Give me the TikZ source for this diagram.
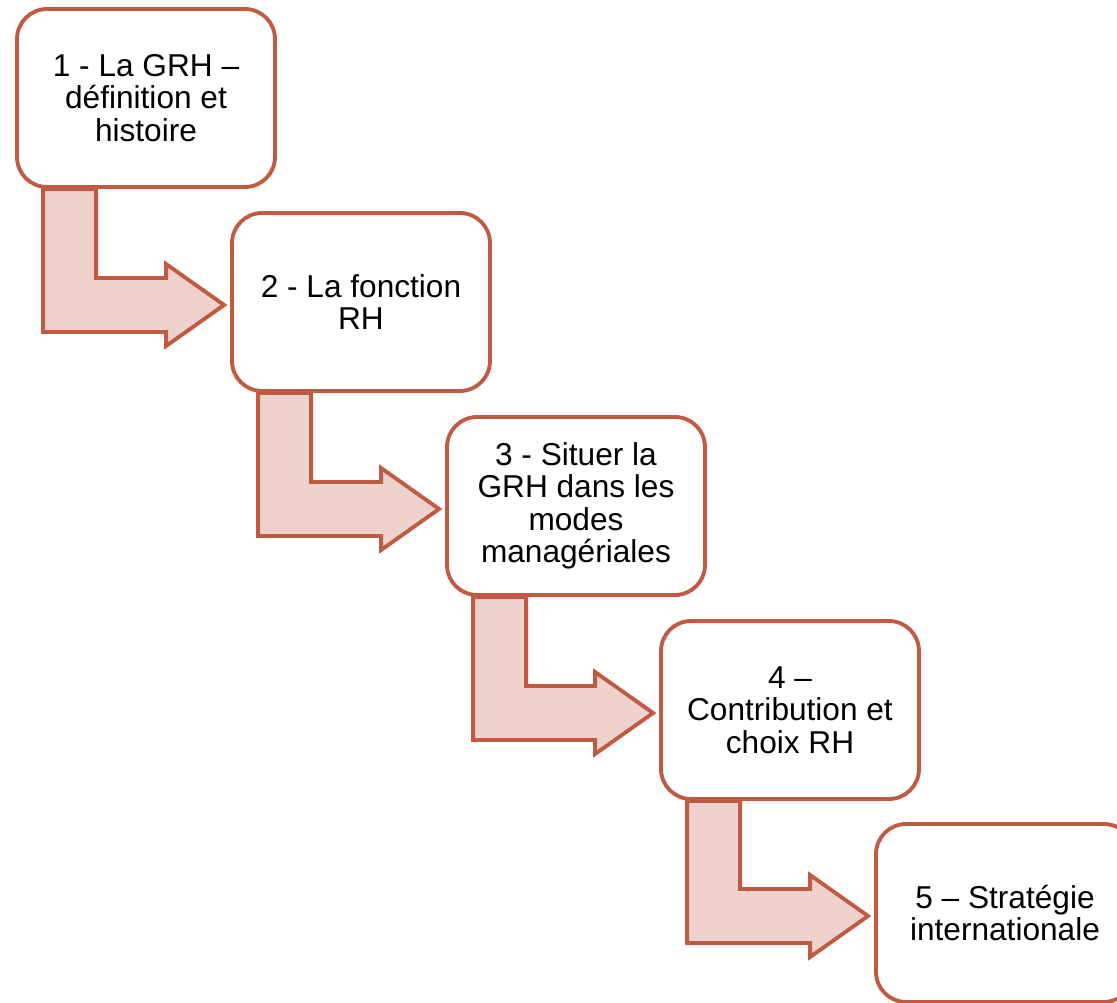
\documentclass[tikz,border=0pt]{standalone}
\usepackage{fontspec}
\setmainfont{Liberation Sans}
\usepackage{xcolor}
\usetikzlibrary{positioning, calc, backgrounds}

\definecolor{rhborder}{HTML}{C05A42}
\definecolor{rhfill}{HTML}{EED2CE}

\begin{document}
\begin{tikzpicture}[x=0.02cm, y=-0.02cm,
  stepbox/.style={draw=rhborder, line width=2.2pt, fill=white, rounded corners=0.6cm,
    minimum width=5.16cm, minimum height=3.56cm, inner sep=0pt, align=center,
    font=\fontsize{18}{18.5}\selectfont},
  bendarrow/.style={draw=rhborder, line width=2.2pt, fill=rhfill, line join=miter}]
\useasboundingbox (0,0) rectangle (1117,1003);
\clip (0,0) rectangle (1117,1003);
% Steps
\node[stepbox] (s1) at (146,98) {1 - La GRH –\\définition et\\histoire};
\node[stepbox] (s2) at (361,302) {2 - La fonction\\RH};
\node[stepbox] (s3) at (576,506) {3 - Situer la\\GRH dans les\\modes\\managériales};
\node[stepbox] (s4) at (790,710) {4 –\\Contribution et\\choix RH};
\node[stepbox] (s5) at (1005,913) {5 – Stratégie\\internationale};

% Bent arrows
\begin{pgfonlayer}{background}
\foreach \a/\b in {s1/s2, s2/s3, s3/s4, s4/s5} {
  \draw[bendarrow] ($(\a.south west)+(28,0)$) |- ($(\b.west)+(-64,30)$) -- ++(0,14)
    -- ($(\b.west)+(-6,3)$) -- ($(\b.west)+(-64,-38)$) -- ++(0,14)
    -| ($(\a.south west)+(81,0)$) -- cycle;
}
\end{pgfonlayer}
\end{tikzpicture}
\end{document}
